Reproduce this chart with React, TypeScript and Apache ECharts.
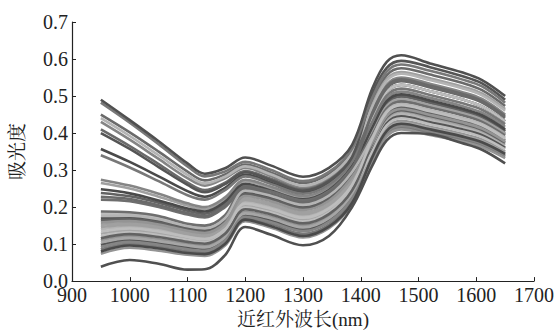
import React, { useEffect, useRef } from "react";
import * as echarts from "echarts";

// wavelengths (nm) at which each spectrum is sampled
const wavelengths = [950, 1000, 1050, 1100, 1130, 1165, 1200, 1245, 1300, 1345, 1385, 1420, 1445, 1470, 1520, 1575, 1610, 1650];

// absorbance spectra
const u1 = [0.490, 0.435, 0.378, 0.318, 0.290, 0.305, 0.334, 0.312, 0.282, 0.306, 0.368, 0.520, 0.592, 0.610, 0.588, 0.564, 0.543, 0.500];
const u2 = [0.482, 0.428, 0.370, 0.310, 0.283, 0.296, 0.322, 0.300, 0.270, 0.295, 0.358, 0.495, 0.566, 0.585, 0.568, 0.545, 0.526, 0.482];
const u3 = [0.450, 0.402, 0.350, 0.296, 0.272, 0.288, 0.315, 0.293, 0.265, 0.290, 0.353, 0.485, 0.556, 0.575, 0.558, 0.536, 0.516, 0.473];
const u4 = [0.440, 0.392, 0.340, 0.287, 0.264, 0.282, 0.310, 0.288, 0.258, 0.283, 0.346, 0.470, 0.541, 0.560, 0.543, 0.521, 0.502, 0.460];
const u5 = [0.430, 0.382, 0.330, 0.278, 0.258, 0.278, 0.306, 0.283, 0.252, 0.277, 0.340, 0.460, 0.531, 0.550, 0.533, 0.511, 0.492, 0.450];
const u6 = [0.410, 0.365, 0.316, 0.266, 0.246, 0.266, 0.297, 0.276, 0.247, 0.272, 0.335, 0.450, 0.521, 0.540, 0.523, 0.501, 0.482, 0.441];
const u7 = [0.400, 0.357, 0.308, 0.260, 0.240, 0.262, 0.294, 0.272, 0.244, 0.270, 0.335, 0.505, 0.576, 0.595, 0.578, 0.554, 0.534, 0.490];
const u8 = [0.357, 0.322, 0.283, 0.243, 0.228, 0.252, 0.288, 0.266, 0.240, 0.265, 0.328, 0.440, 0.511, 0.530, 0.513, 0.491, 0.472, 0.432];
const u9 = [0.340, 0.307, 0.270, 0.232, 0.220, 0.246, 0.283, 0.262, 0.236, 0.261, 0.324, 0.430, 0.501, 0.520, 0.503, 0.481, 0.463, 0.424];
const m1 = [0.274, 0.258, 0.236, 0.210, 0.200, 0.226, 0.274, 0.255, 0.230, 0.255, 0.318, 0.422, 0.493, 0.512, 0.495, 0.473, 0.455, 0.417];
const m2 = [0.265, 0.250, 0.228, 0.204, 0.194, 0.222, 0.270, 0.250, 0.226, 0.252, 0.316, 0.475, 0.546, 0.565, 0.548, 0.526, 0.507, 0.465];
const m3 = [0.248, 0.237, 0.218, 0.196, 0.188, 0.215, 0.263, 0.244, 0.221, 0.246, 0.310, 0.415, 0.486, 0.505, 0.488, 0.466, 0.448, 0.410];
const m4 = [0.238, 0.229, 0.212, 0.190, 0.182, 0.210, 0.258, 0.240, 0.217, 0.242, 0.306, 0.408, 0.479, 0.498, 0.481, 0.459, 0.441, 0.404];
const m5 = [0.228, 0.222, 0.205, 0.184, 0.176, 0.205, 0.254, 0.235, 0.213, 0.239, 0.303, 0.455, 0.526, 0.545, 0.528, 0.506, 0.487, 0.446];
const m6 = [0.220, 0.216, 0.200, 0.180, 0.172, 0.200, 0.250, 0.232, 0.210, 0.235, 0.299, 0.400, 0.471, 0.490, 0.473, 0.452, 0.434, 0.397];
const d1 = [0.188, 0.186, 0.176, 0.155, 0.150, 0.178, 0.256, 0.242, 0.218, 0.243, 0.306, 0.395, 0.466, 0.485, 0.469, 0.448, 0.430, 0.393];
const d2 = [0.182, 0.182, 0.172, 0.152, 0.147, 0.176, 0.250, 0.236, 0.212, 0.238, 0.302, 0.440, 0.511, 0.530, 0.513, 0.491, 0.472, 0.432];
const d3 = [0.176, 0.177, 0.167, 0.148, 0.142, 0.170, 0.244, 0.230, 0.206, 0.231, 0.295, 0.388, 0.459, 0.478, 0.462, 0.441, 0.424, 0.388];
const d4 = [0.170, 0.172, 0.163, 0.144, 0.138, 0.166, 0.240, 0.226, 0.202, 0.227, 0.291, 0.410, 0.481, 0.500, 0.483, 0.461, 0.443, 0.406];
const d5 = [0.164, 0.167, 0.158, 0.140, 0.134, 0.162, 0.235, 0.221, 0.197, 0.222, 0.286, 0.380, 0.451, 0.470, 0.454, 0.434, 0.417, 0.381];
const d6 = [0.158, 0.162, 0.153, 0.136, 0.130, 0.157, 0.230, 0.216, 0.192, 0.217, 0.281, 0.375, 0.446, 0.465, 0.449, 0.429, 0.412, 0.377];
const d7 = [0.152, 0.157, 0.148, 0.131, 0.125, 0.152, 0.224, 0.210, 0.186, 0.211, 0.275, 0.402, 0.473, 0.492, 0.475, 0.454, 0.436, 0.399];
const d8 = [0.146, 0.152, 0.144, 0.127, 0.121, 0.148, 0.219, 0.205, 0.181, 0.206, 0.270, 0.368, 0.439, 0.458, 0.442, 0.422, 0.406, 0.371];
const d9 = [0.140, 0.147, 0.139, 0.123, 0.117, 0.144, 0.214, 0.200, 0.176, 0.201, 0.265, 0.362, 0.433, 0.452, 0.436, 0.417, 0.400, 0.366];
const d10 = [0.134, 0.142, 0.134, 0.119, 0.113, 0.140, 0.209, 0.195, 0.171, 0.196, 0.260, 0.385, 0.456, 0.475, 0.459, 0.438, 0.421, 0.385];
const d11 = [0.128, 0.137, 0.129, 0.115, 0.109, 0.136, 0.204, 0.190, 0.166, 0.191, 0.255, 0.355, 0.426, 0.445, 0.429, 0.410, 0.394, 0.360];
const d12 = [0.122, 0.132, 0.124, 0.111, 0.105, 0.132, 0.199, 0.185, 0.161, 0.186, 0.250, 0.350, 0.421, 0.440, 0.424, 0.405, 0.389, 0.356];
const d13 = [0.116, 0.127, 0.119, 0.106, 0.101, 0.128, 0.194, 0.180, 0.156, 0.181, 0.245, 0.372, 0.443, 0.462, 0.446, 0.426, 0.409, 0.374];
const d14 = [0.110, 0.121, 0.113, 0.101, 0.096, 0.123, 0.188, 0.174, 0.150, 0.175, 0.239, 0.343, 0.414, 0.433, 0.417, 0.398, 0.383, 0.350];
const d15 = [0.104, 0.116, 0.108, 0.096, 0.091, 0.118, 0.183, 0.169, 0.145, 0.170, 0.234, 0.338, 0.409, 0.428, 0.413, 0.394, 0.378, 0.346];
const d16 = [0.098, 0.111, 0.103, 0.091, 0.087, 0.114, 0.178, 0.164, 0.140, 0.165, 0.229, 0.355, 0.426, 0.445, 0.429, 0.410, 0.394, 0.360];
const d17 = [0.092, 0.106, 0.098, 0.086, 0.082, 0.110, 0.174, 0.159, 0.135, 0.160, 0.224, 0.330, 0.401, 0.420, 0.405, 0.387, 0.371, 0.340];
const d18 = [0.086, 0.101, 0.093, 0.081, 0.078, 0.105, 0.170, 0.154, 0.128, 0.153, 0.217, 0.325, 0.396, 0.415, 0.400, 0.382, 0.367, 0.336];
const d19 = [0.080, 0.096, 0.088, 0.076, 0.073, 0.100, 0.166, 0.148, 0.122, 0.147, 0.211, 0.335, 0.406, 0.425, 0.410, 0.391, 0.375, 0.344];
const d20 = [0.074, 0.090, 0.082, 0.071, 0.068, 0.096, 0.162, 0.144, 0.118, 0.143, 0.207, 0.320, 0.391, 0.410, 0.395, 0.377, 0.362, 0.332];
const b1 = [0.039, 0.057, 0.047, 0.031, 0.032, 0.070, 0.146, 0.125, 0.097, 0.122, 0.200, 0.312, 0.380, 0.400, 0.397, 0.373, 0.355, 0.318];

const spectra = [u3, m2, d4, u5, d9, m4, d14, u8, d2, d18, m6, d11, u6, d7, d16, m1, u4, d5, d20, m3, d12, u9, d1, d15, m5, d8, u7, d17, d3, d13, d6, d19, d10, u2, u1, b1];

const grays = ["#6a6a6a", "#a0a0a0", "#555555", "#858585", "#b4b4b4", "#626262", "#949494", "#4a4a4a", "#bdbdbd", "#787878", "#6e6e6e", "#a6a6a6"];

const yTicks = [0, 0.1, 0.2, 0.3, 0.4, 0.5, 0.6, 0.7];
const xTicks = [900, 1000, 1100, 1200, 1300, 1400, 1500, 1600, 1700];

const FONT = "'Liberation Serif', 'Times New Roman', 'Noto Serif CJK SC', 'Noto Sans CJK SC', serif";

export default function App() {
  const ref = useRef<HTMLDivElement>(null);
  useEffect(() => {
    if (!ref.current) return;
    const chart = echarts.init(ref.current, undefined, { renderer: "svg" });
    const series = spectra.map((vals, i) => {
      const isEdge = vals === u1 || vals === b1;
      return {
        type: "line",
        data: wavelengths.map((w, j) => [w, vals[j]]),
        showSymbol: false,
        smooth: 0.35,
        lineStyle: { width: 2.6, color: isEdge ? "#505050" : grays[i % grays.length] },
        silent: true,
      };
    });
    chart.setOption({
      animation: false,
      backgroundColor: "#ffffff",
      grid: { left: 67, right: 22, top: 22, bottom: 44 },
      xAxis: {
        type: "value",
        min: xTicks[0],
        max: xTicks[xTicks.length - 1],
        interval: 100,
        name: "近红外波长(nm)",
        nameLocation: "middle",
        nameGap: 24,
        nameTextStyle: { fontFamily: FONT, fontSize: 19, color: "#222" },
        axisLine: { lineStyle: { color: "#222", width: 1.2 } },
        axisTick: { inside: true, length: 4, lineStyle: { color: "#222" } },
        axisLabel: { fontFamily: FONT, fontSize: 20, lineHeight: 14, color: "#222", margin: 7, formatter: (v: number) => String(v) },
        splitLine: { show: false },
      },
      yAxis: {
        type: "value",
        min: yTicks[0],
        max: yTicks[yTicks.length - 1],
        interval: 0.1,
        name: "吸光度",
        nameLocation: "middle",
        nameGap: 45,
        nameTextStyle: { fontFamily: FONT, fontSize: 19, color: "#222" },
        axisLine: { show: true, lineStyle: { color: "#222", width: 1.2 } },
        axisTick: { show: true, inside: true, length: 4, lineStyle: { color: "#222" } },
        axisLabel: { fontFamily: FONT, fontSize: 20, lineHeight: 14, color: "#222", margin: 4, formatter: (v: number) => v.toFixed(1) },
        splitLine: { show: false },
      },
      series,
    });
    return () => chart.dispose();
  }, []);
  return <div ref={ref} style={{ width: 557, height: 334, position: "absolute", left: 0, top: 0 }} />;
}
